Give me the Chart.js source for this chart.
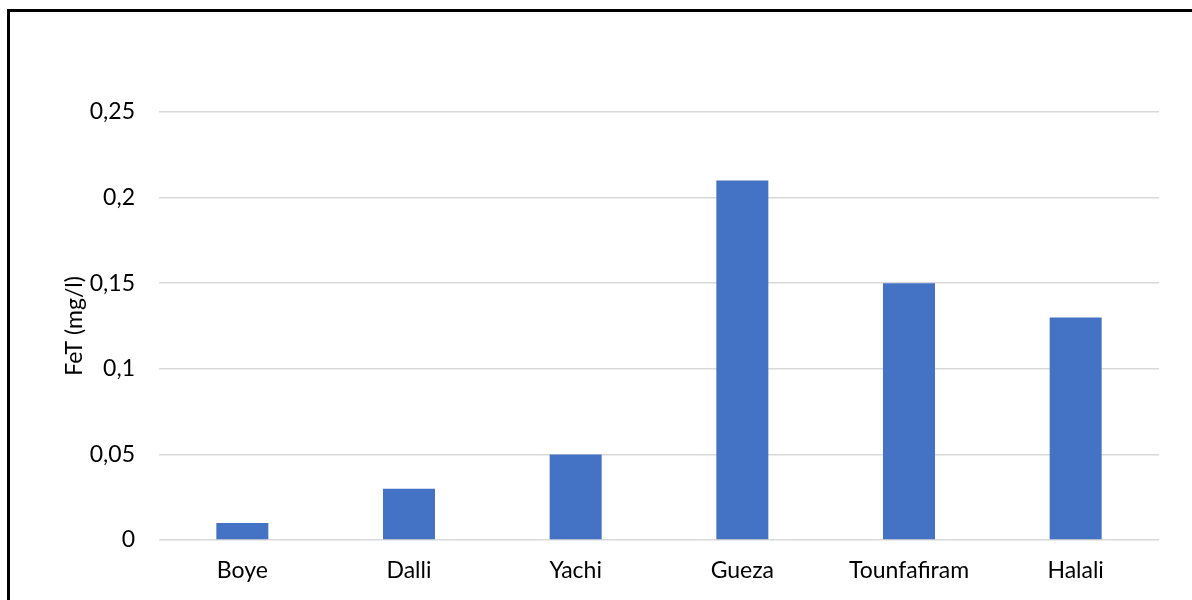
<!DOCTYPE html>
<html>
<head>
<meta charset="utf-8">
<script src="https://cdn.jsdelivr.net/npm/chart.js@4"></script>
<style>
  html, body { margin: 0; padding: 0; background: #fff; overflow: hidden; }
  #wrap { position: relative; width: 1192px; height: 600px; }
  #frame {
    position: absolute; left: 7px; top: 9px;
    width: 1300px; height: 700px;
    border: 3px solid #000; box-sizing: border-box;
  }
  canvas { position: absolute; left: 0; top: 0; }
</style>
</head>
<body>
<div id="wrap">
  <div id="frame"></div>
  <canvas id="chart" width="1192" height="600"></canvas>
</div>
<script>
// sites and total iron values
const sites = ["Boye", "Dalli", "Yachi", "Gueza", "Tounfafiram", "Halali"]
const fet = [0.01, 0.03, 0.05, 0.21, 0.15, 0.13]
const tickLabels = ["0", "0,05", "0,1", "0,15", "0,2", "0,25"]
const axisTitle = "FeT (mg/l)"

const font = { family: "Lato, 'Open Sans', sans-serif", size: 23 }

let ctx = document.getElementById("chart").getContext("2d")

chart = new Chart(ctx, {
  type: 'bar',
  data: {
    labels: sites,
    datasets: [{
      data: fet,
      backgroundColor: '#4472C4',
      borderWidth: 0,
      barPercentage: 0.312,
      categoryPercentage: 1.0
    }]
  },
  options: {
    responsive: false,
    animation: false,
    layout: {
      padding: { left: 57, right: 33, top: 112, bottom: 0 }
    },
    scales: {
      x: {
        grid: { display: false },
        border: { display: false },
        ticks: { color: '#000', font: font, padding: 9, maxRotation: 0 },
        afterFit: function(scale) { scale.height = 60 }
      },
      y: {
        min: 0,
        max: 0.25,
        ticks: {
          stepSize: 0.05,
          color: '#000',
          font: font,
          padding: 24,
          // comma decimals
          callback: function(value, index) { return tickLabels[index] }
        },
        grid: { color: '#d9d9d9', lineWidth: 1.5, drawTicks: false },
        border: { display: false },
        title: {
          display: true,
          text: axisTitle,
          color: '#000',
          font: font,
          padding: { top: 4, bottom: 0 }
        },
        afterFit: function(scale) { scale.width = 102 }
      }
    },
    plugins: {
      legend: { display: false },
      tooltip: { enabled: false }
    }
  }
})
</script>
</body>
</html>
